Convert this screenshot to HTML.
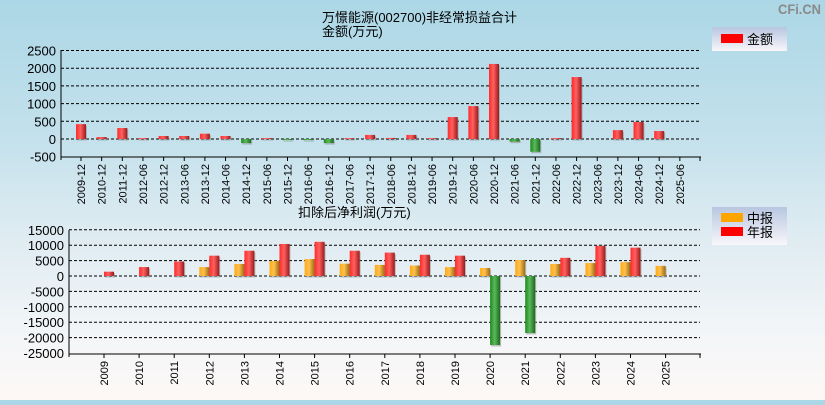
<!DOCTYPE html>
<html><head><meta charset="utf-8">
<style>
html,body{margin:0;padding:0;}
body{width:825px;height:400px;overflow:hidden;background:linear-gradient(#acd7e6 0%,#c4e1ec 35%,#dbeaf1 55%,#f4f6f8 85%,#fdf8f6 100%);font-family:"Liberation Sans","Noto Sans CJK SC",sans-serif;}
svg text{font-family:"Liberation Sans","Noto Sans CJK SC",sans-serif;}
</style></head>
<body>
<svg id="chart" width="825" height="400" xmlns="http://www.w3.org/2000/svg">
<defs>
<linearGradient id="gRed" x1="0" x2="1"><stop offset="0" stop-color="#ff2a2a"/><stop offset="0.45" stop-color="#ff6060"/><stop offset="1" stop-color="#9a1a1a"/></linearGradient>
<linearGradient id="gGreen" x1="0" x2="1"><stop offset="0" stop-color="#1a8a1a"/><stop offset="0.45" stop-color="#5cb85c"/><stop offset="1" stop-color="#1a6a1a"/></linearGradient>
<linearGradient id="gOrange" x1="0" x2="1"><stop offset="0" stop-color="#ffaa10"/><stop offset="0.45" stop-color="#ffc050"/><stop offset="1" stop-color="#9a6a10"/></linearGradient>
<linearGradient id="gLeg" x1="0" y1="0" x2="0" y2="1"><stop offset="0" stop-color="#b8c6e0"/><stop offset="1" stop-color="#f8f6fa"/></linearGradient>
</defs>
<text x="778" y="14" font-size="14" font-weight="bold" fill="#8a8a8a" textLength="43" lengthAdjust="spacingAndGlyphs">CFi.CN</text>
<text x="322" y="22" font-size="13" fill="#000">万憬能源(002700)非经常损益合计</text>
<text x="322" y="36" font-size="13" fill="#000">金额(万元)</text>
<text x="298" y="217" font-size="13" fill="#000">扣除后净利润(万元)</text>
<g>
<rect x="712" y="27" width="75" height="24" fill="url(#gLeg)"/>
<rect x="721" y="34" width="22" height="9" fill="#ff0000"/>
<text x="747" y="44" font-size="13">金额</text>
</g>
<g>
<rect x="712" y="207" width="75" height="38" fill="url(#gLeg)"/>
<rect x="721" y="213" width="22" height="9" fill="#ffa500"/>
<text x="747" y="223" font-size="13">中报</text>
<rect x="721" y="227" width="22" height="9" fill="#ff0000"/>
<text x="747" y="237" font-size="13">年报</text>
</g>
<g id="top"></g>
<g id="bot"></g>
</svg>
<script>
const topCats=["2009-12","2010-12","2011-12","2012-06","2012-12","2013-06","2013-12","2014-06","2014-12","2015-06","2015-12","2016-06","2016-12","2017-06","2017-12","2018-06","2018-12","2019-06","2019-12","2020-06","2020-12","2021-06","2021-12","2022-06","2022-12","2023-06","2023-12","2024-06","2024-12","2025-06"];
const topVals=[420,55,310,25,85,85,150,85,-115,25,-30,-30,-115,25,115,30,115,25,620,930,2120,-75,-360,25,1750,0,250,480,225,0];
const topTicks=[2500,2000,1500,1000,500,0,-500];
const botCats=["2009","2010","2011","2012","2013","2014","2015","2016","2017","2018","2019","2020","2021","2022","2023","2024","2025"];
const midVals=[null,null,null,2900,3900,4900,5500,4000,3600,3400,2900,2600,5200,3900,4200,4500,3300];
const annVals=[1400,2900,4700,6600,8200,10400,11100,8200,7600,6900,6600,-22400,-18500,5900,9800,9200,null];
const botTicks=[15000,10000,5000,0,-5000,-10000,-15000,-20000,-25000];

const NS="http://www.w3.org/2000/svg";
function mk(p,t,a){const e=document.createElementNS(NS,t);for(const k in a)e.setAttribute(k,a[k]);p.appendChild(e);return e;}

// top chart
const T=document.getElementById('top');
const tY=v=>139-(v/500)*17.7;
const tX=i=>81+i*20.65;
topTicks.forEach(v=>{
  const y=tY(v);
  if(v!==-500){const l=mk(T,'line',{x1:61,x2:700,y1:y,y2:y,stroke:'#000','stroke-dasharray':'3,2','stroke-width':1});
  
  }
  const t=mk(T,'text',{x:56,y:y+5,'font-size':13,'text-anchor':'end',fill:'#000'});t.textContent=v;
  
  
});
mk(T,'line',{x1:61,x2:61,y1:50,y2:160,stroke:'#000'});
mk(T,'line',{x1:61,x2:701,y1:157,y2:157,stroke:'#000'});
topCats.forEach((c,i)=>{
  const x=tX(i),v=topVals[i];
  mk(T,'line',{x1:x,x2:x,y1:157,y2:161,stroke:'#000'});
  if(v){const y0=tY(0),y1=tY(v);
    mk(T,'rect',{x:x-4,y:Math.min(y0,y1)+1.5,width:10,height:Math.abs(y1-y0),fill:'#888',opacity:0.5});
    const r=mk(T,'rect',{x:x-5,y:Math.min(y0,y1),width:10,height:Math.max(1,Math.abs(y1-y0)),fill:v>0?'url(#gRed)':'url(#gGreen)'});
    
    }
  const t=mk(T,'text',{x:0,y:0,'font-size':11,'text-anchor':'end',transform:`translate(${x+4},164) rotate(-90)`});
  t.textContent=c;
  
  
});
mk(T,'line',{x1:700,x2:700,y1:157,y2:161,stroke:'#000'});

// bottom chart
const B=document.getElementById('bot');
const bY=v=>276-(v/5000)*15.4;
const bX=i=>104+i*35.1;
botTicks.forEach(v=>{
  const y=bY(v);
  if(v!==-25000){const l=mk(B,'line',{x1:69,x2:700,y1:y,y2:y,stroke:'#000','stroke-dasharray':'3,2','stroke-width':1});
  
  }
  const t=mk(B,'text',{x:64,y:y+5,'font-size':13,'text-anchor':'end',fill:'#000'});t.textContent=v;
  
  
});
mk(B,'line',{x1:69,x2:69,y1:230,y2:357,stroke:'#000'});
mk(B,'line',{x1:69,x2:701,y1:354,y2:354,stroke:'#000'});
function bar(x,v,fill,name){
  const y0=bY(0),y1=bY(v);
  mk(B,'rect',{x:x+1,y:Math.min(y0,y1)+1.5,width:10,height:Math.abs(y1-y0),fill:'#888',opacity:0.5});
  const r=mk(B,'rect',{x:x,y:Math.min(y0,y1),width:10,height:Math.abs(y1-y0),fill:fill});
  
  
}
botCats.forEach((c,i)=>{
  const x=bX(i);
  mk(B,'line',{x1:x,x2:x,y1:354,y2:358,stroke:'#000'});
  if(midVals[i]!=null)bar(x-10,midVals[i],midVals[i]>0?'url(#gOrange)':'url(#gGreen)','bar-mid-'+c);
  if(annVals[i]!=null)bar(x,annVals[i],annVals[i]>0?'url(#gRed)':'url(#gGreen)','bar-annual-'+c);
  const t=mk(B,'text',{x:0,y:0,'font-size':11,'text-anchor':'end',transform:`translate(${x+4},361) rotate(-90)`});
  t.textContent=c;
  
  
});
mk(B,'line',{x1:700,x2:700,y1:354,y2:358,stroke:'#000'});
</script>
</body></html>
